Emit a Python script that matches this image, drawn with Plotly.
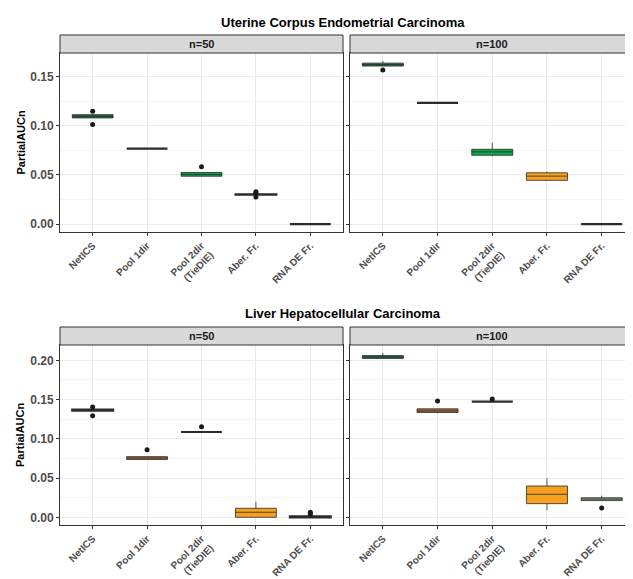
import plotly.graph_objects as go

# ---------------- data ----------------
categories = ["NetICS", "Pool 1dir", "Pool 2dir<br>(TieDIE)", "Aber. Fr.", "RNA DE Fr."]

# Uterine Corpus Endometrial Carcinoma, n=50
ucec50_q1 = [0.1080, 0.0768, 0.0487, 0.0300, 0.0000]
ucec50_med = [0.1097, 0.0768, 0.0505, 0.0300, 0.0000]
ucec50_q3 = [0.1113, 0.0768, 0.0525, 0.0302, 0.0000]
ucec50_lo = [0.1080, 0.0768, 0.0487, 0.0300, 0.0000]
ucec50_hi = [0.1113, 0.0768, 0.0525, 0.0302, 0.0000]
ucec50_out_cat = ["NetICS", "NetICS", "Pool 2dir<br>(TieDIE)", "Aber. Fr.", "Aber. Fr.", "Aber. Fr."]
ucec50_out_val = [0.1148, 0.1013, 0.0583, 0.0330, 0.0315, 0.0275]

# Uterine Corpus Endometrial Carcinoma, n=100
ucec100_q1 = [0.1607, 0.1232, 0.0700, 0.0445, 0.0000]
ucec100_med = [0.1622, 0.1232, 0.0735, 0.0488, 0.0000]
ucec100_q3 = [0.1637, 0.1232, 0.0761, 0.0522, 0.0000]
ucec100_lo = [0.1607, 0.1232, 0.0690, 0.0440, 0.0000]
ucec100_hi = [0.1660, 0.1232, 0.0828, 0.0535, 0.0000]
ucec100_out_cat = ["NetICS"]
ucec100_out_val = [0.1568]

# Liver Hepatocellular Carcinoma, n=50
lihc50_q1 = [0.1360, 0.0737, 0.1087, 0.0000, 0.0000]
lihc50_med = [0.1367, 0.0755, 0.1087, 0.0064, 0.0008]
lihc50_q3 = [0.1372, 0.0773, 0.1087, 0.0115, 0.0012]
lihc50_lo = [0.1360, 0.0737, 0.1087, 0.0000, 0.0000]
lihc50_hi = [0.1372, 0.0773, 0.1087, 0.0199, 0.0012]
lihc50_out_cat = ["NetICS", "NetICS", "Pool 1dir", "Pool 2dir<br>(TieDIE)", "RNA DE Fr.", "RNA DE Fr."]
lihc50_out_val = [0.1405, 0.1294, 0.0860, 0.1154, 0.0064, 0.0040]

# Liver Hepatocellular Carcinoma, n=100
lihc100_q1 = [0.2024, 0.1335, 0.1473, 0.0174, 0.0213]
lihc100_med = [0.2042, 0.1355, 0.1473, 0.0293, 0.0232]
lihc100_q3 = [0.2060, 0.1382, 0.1473, 0.0399, 0.0249]
lihc100_lo = [0.2020, 0.1325, 0.1473, 0.0089, 0.0213]
lihc100_hi = [0.2093, 0.1382, 0.1473, 0.0497, 0.0275]
lihc100_out_cat = ["Pool 1dir", "Pool 2dir<br>(TieDIE)", "RNA DE Fr."]
lihc100_out_val = [0.1481, 0.1507, 0.0118]

# ---------------- styles ----------------
DKG, BRG, ORG, BRN, GGR, BLK = "#1f7040", "#07a845", "#f5a01e", "#a86a35", "#86a878", "#333333"
ucec50_fill = [DKG, BLK, BRG, BLK, BLK]
ucec100_fill = [DKG, BLK, BRG, ORG, BLK]
lihc50_fill = [BLK, BRN, BLK, ORG, BLK]
lihc100_fill = [DKG, BRN, BLK, ORG, GGR]

W, H = 633, 579
FONT = "Liberation Sans"


def fx(p):
    return p / W


def fy(p):
    return 1 - p / H


panels = [
    dict(ax="", x=(52, 335), y=(45, 224), q1=ucec50_q1, med=ucec50_med, q3=ucec50_q3,
         lo=ucec50_lo, hi=ucec50_hi, oc=ucec50_out_cat, ov=ucec50_out_val, fill=ucec50_fill,
         ylab=True, yr=[-0.008, 0.174], tv=[0, 0.05, 0.10, 0.15], strip="n=50", sy=(27, 45)),
    dict(ax="2", x=(342, 626.5), y=(45, 224), q1=ucec100_q1, med=ucec100_med, q3=ucec100_q3,
         lo=ucec100_lo, hi=ucec100_hi, oc=ucec100_out_cat, ov=ucec100_out_val, fill=ucec100_fill,
         ylab=False, yr=[-0.008, 0.174], tv=[0, 0.05, 0.10, 0.15], strip="n=100", sy=(27, 45)),
    dict(ax="3", x=(52, 335), y=(337, 517), q1=lihc50_q1, med=lihc50_med, q3=lihc50_q3,
         lo=lihc50_lo, hi=lihc50_hi, oc=lihc50_out_cat, ov=lihc50_out_val, fill=lihc50_fill,
         ylab=True, yr=[-0.0098, 0.2195], tv=[0, 0.05, 0.10, 0.15, 0.20], strip="n=50", sy=(319, 337)),
    dict(ax="4", x=(342, 626.5), y=(337, 517), q1=lihc100_q1, med=lihc100_med, q3=lihc100_q3,
         lo=lihc100_lo, hi=lihc100_hi, oc=lihc100_out_cat, ov=lihc100_out_val, fill=lihc100_fill,
         ylab=False, yr=[-0.0098, 0.2195], tv=[0, 0.05, 0.10, 0.15, 0.20], strip="n=100", sy=(319, 337)),
]

fig = go.Figure()
shapes = []
annotations = []
layout = {}

for p in panels:
    xa = "x" + p["ax"]
    ya = "y" + p["ax"]
    for i, cat in enumerate(categories):
        fill = p["fill"][i]
        lw = 2.2 if fill == BLK else 0.8
        fig.add_trace(go.Box(
            x=[cat], q1=[p["q1"][i]], median=[p["med"][i]], q3=[p["q3"][i]],
            lowerfence=[p["lo"][i]], upperfence=[p["hi"][i]],
            boxpoints=False, width=0.75, whiskerwidth=0,
            fillcolor=fill, line=dict(color="#2b2b2b", width=lw),
            xaxis=xa, yaxis=ya, showlegend=False, hoverinfo="skip",
        ))
    fig.add_trace(go.Scatter(
        x=p["oc"], y=p["ov"], mode="markers",
        marker=dict(color="#1a1a1a", size=5),
        xaxis=xa, yaxis=ya, showlegend=False, hoverinfo="skip",
    ))
    xkey = "xaxis" + p["ax"]
    ykey = "yaxis" + p["ax"]
    layout[xkey] = dict(
        domain=[fx(p["x"][0]), fx(p["x"][1])], anchor=ya,
        type="category", categoryorder="array", categoryarray=categories,
        range=[-0.6, 4.6], showgrid=True, gridcolor="#ebebeb", gridwidth=1,
        showline=True, mirror=True, linecolor="#333333", linewidth=1,
        ticks="outside", ticklen=3, tickcolor="#333333", tickangle=-45,
        tickfont=dict(family=FONT, size=10, color="#4d4d4d", weight="bold"),
        zeroline=False, fixedrange=True,
    )
    layout[ykey] = dict(
        domain=[fy(p["y"][1]), fy(p["y"][0])], anchor=xa,
        range=p["yr"], tickvals=p["tv"], tickformat=".2f",
        showticklabels=p["ylab"],
        showgrid=True, gridcolor="#ebebeb", gridwidth=1,
        minor=dict(dtick=0.025, showgrid=True, gridcolor="#f5f5f5", gridwidth=0.6),
        showline=True, mirror=True, linecolor="#333333", linewidth=1,
        ticks="outside", ticklen=3, tickcolor="#333333",
        tickfont=dict(family=FONT, size=12, color="#4d4d4d", weight="bold"),
        zeroline=False, fixedrange=True,
    )
    shapes.append(dict(type="rect", xref="paper", yref="paper",
                       x0=fx(p["x"][0]), x1=fx(p["x"][1]), y0=fy(p["sy"][1]), y1=fy(p["sy"][0]),
                       fillcolor="#d9d9d9", line=dict(color="#333333", width=1), layer="above"))
    annotations.append(dict(text=p["strip"], xref="paper", yref="paper",
                            x=fx((p["x"][0] + p["x"][1]) / 2), y=fy((p["sy"][0] + p["sy"][1]) / 2),
                            xanchor="center", yanchor="middle", showarrow=False,
                            font=dict(family=FONT, size=11, color="#1a1a1a", weight="bold")))

annotations.append(dict(text="Uterine Corpus Endometrial Carcinoma", xref="paper", yref="paper",
                        x=fx(335), y=fy(14), xanchor="center", yanchor="middle", showarrow=False,
                        font=dict(family=FONT, size=13, color="#000000", weight="bold")))
annotations.append(dict(text="Liver Hepatocellular Carcinoma", xref="paper", yref="paper",
                        x=fx(335), y=fy(305), xanchor="center", yanchor="middle", showarrow=False,
                        font=dict(family=FONT, size=13, color="#000000", weight="bold")))
for yc in (134.5, 427):
    annotations.append(dict(text="PartialAUCn", xref="paper", yref="paper",
                            x=fx(12), y=fy(yc), xanchor="center", yanchor="middle", showarrow=False,
                            textangle=-90,
                            font=dict(family=FONT, size=11, color="#000000", weight="bold")))

fig.update_layout(
    width=W, height=H, margin=dict(l=0, r=0, t=0, b=0),
    paper_bgcolor="white", plot_bgcolor="white",
    shapes=shapes, annotations=annotations, showlegend=False,
    **layout,
)

fig.write_html("out.html")
